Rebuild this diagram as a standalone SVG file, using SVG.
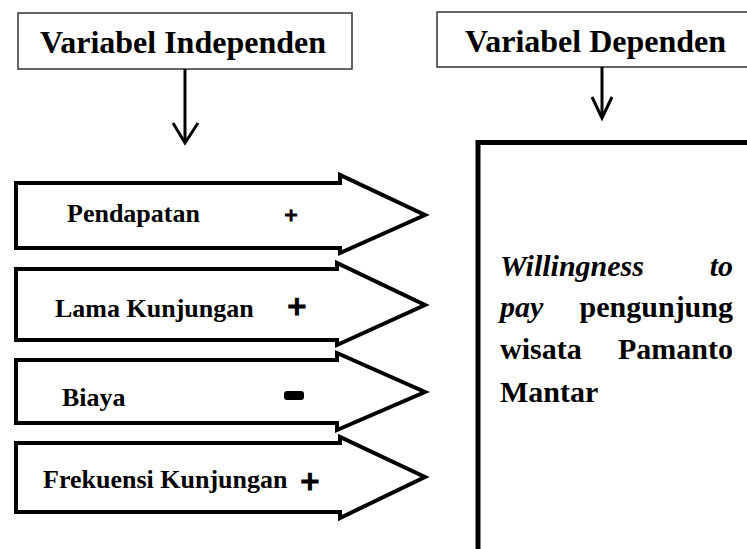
<svg xmlns="http://www.w3.org/2000/svg" width="747" height="549" viewBox="0 0 747 549">
<style>
.hdr{fill:#fff;stroke:#333;stroke-width:1.5}
.ht{font-family:"Liberation Serif","Times New Roman",serif;font-weight:bold;font-size:32px;fill:#000}
.pent{fill:#fff;stroke:#000;stroke-width:4;stroke-linejoin:miter}
.lt{font-family:"Liberation Serif","Times New Roman",serif;font-weight:bold;font-size:26px;fill:#000}
.sg{font-family:"DejaVu Sans",sans-serif;font-weight:bold;fill:#000;stroke:#000;text-anchor:middle}
.bt{font-family:"Liberation Serif","Times New Roman",serif;font-weight:bold;font-size:30px;fill:#000}
.it{font-style:italic}
.conn{fill:none;stroke:#000;stroke-width:3}
</style>
<rect width="747" height="549" fill="#fff"/>
<g id="node-independen">
<rect class="hdr" x="18" y="13" width="334" height="56"/>
<text class="ht" x="40" y="53">Variabel Independen</text>
</g>
<g id="node-dependen">
<rect class="hdr" x="437" y="12" width="330" height="55"/>
<text class="ht" x="465" y="52">Variabel Dependen</text>
</g>
<g id="node-pendapatan">
<path class="pent" d="M16,183 H340 V175 L425,215 L340,253 V248 H16 Z"/>
<text class="lt" x="67" y="222">Pendapatan</text>
<text class="sg" x="291" y="221" font-size="18" stroke-width="0.8">+</text>
</g>
<g id="node-lama">
<path class="pent" d="M16,269 H337 V263 L425,305 L337,345 V340 H16 Z"/>
<text class="lt" x="55" y="317">Lama Kunjungan</text>
<text class="sg" x="297" y="315" font-size="26" stroke-width="1">+</text>
</g>
<g id="node-biaya">
<path class="pent" d="M16,360 H337 V353 L425,392 L337,430 V423 H16 Z"/>
<text class="lt" x="62" y="406">Biaya</text>
<rect x="284" y="391" width="20" height="9" rx="3" fill="#000"/>
</g>
<g id="node-frekuensi">
<path class="pent" d="M16,443 H340 V437 L425,477 L340,518 V512 H16 Z"/>
<text class="lt" x="43" y="488">Frekuensi Kunjungan</text>
<text class="sg" x="310" y="490" font-size="26" stroke-width="1">+</text>
</g>
<g id="node-wtp">
<rect x="478" y="142.5" width="300" height="430" fill="#fff" stroke="#000" stroke-width="5"/>
<text class="bt it" x="500" y="276">Willingness</text>
<text class="bt it" x="733" y="276" text-anchor="end">to</text>
<text class="bt it" x="500" y="317">pay</text>
<text class="bt" x="733" y="317" text-anchor="end">pengunjung</text>
<text class="bt" x="500" y="359">wisata</text>
<text class="bt" x="733" y="359" text-anchor="end">Pamanto</text>
<text class="bt" x="500" y="402">Mantar</text>
</g>
<g id="connectors">
<path class="conn" d="M185,69 V142"/>
<path class="conn" d="M173,123 L185,143 L198,123"/>
<path class="conn" d="M602,67 V117"/>
<path class="conn" d="M592,97 L602,118 L612,97"/>
</g>
</svg>
